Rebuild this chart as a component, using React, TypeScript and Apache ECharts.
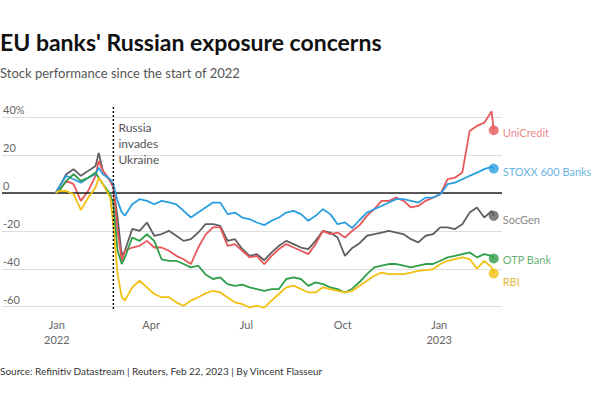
import React, { useEffect, useRef } from "react";
import * as echarts from "echarts";

const dates = [
  "2021-12-31", "2022-01-03", "2022-01-10", "2022-01-17", "2022-01-24", "2022-01-31",
  "2022-02-07", "2022-02-10", "2022-02-14", "2022-02-21", "2022-02-24", "2022-02-28",
  "2022-03-04", "2022-03-07", "2022-03-14", "2022-03-21", "2022-03-28", "2022-04-04",
  "2022-04-11", "2022-04-18", "2022-04-25", "2022-05-02", "2022-05-09", "2022-05-16",
  "2022-05-23", "2022-05-30", "2022-06-06", "2022-06-13", "2022-06-20", "2022-06-27",
  "2022-07-04", "2022-07-11", "2022-07-18", "2022-07-25", "2022-08-01", "2022-08-08",
  "2022-08-15", "2022-08-22", "2022-08-29", "2022-09-05", "2022-09-12", "2022-09-19",
  "2022-09-26", "2022-10-03", "2022-10-10", "2022-10-17", "2022-10-24", "2022-10-31",
  "2022-11-07", "2022-11-14", "2022-11-21", "2022-11-28", "2022-12-05", "2022-12-12",
  "2022-12-19", "2022-12-26", "2023-01-02", "2023-01-09", "2023-01-16", "2023-01-23",
  "2023-01-30", "2023-02-06", "2023-02-13", "2023-02-20", "2023-02-22",
];

const socgen = [0, 2.8, 9.8, 12.5, 9, 11.6, 14.2, 21, 11.6, 6.3, 2.8, -13, -33, -30.5, -19, -20, -15.6, -22.6, -21.7, -20, -22.6, -25.3, -24.4, -20.9, -16.5, -16.5, -17.4, -25.3, -24.4, -29.6, -33.2, -32.3, -35.5, -31.4, -27.9, -25.3, -27, -28.8, -29.6, -25.3, -20, -20.9, -23.5, -33.2, -29, -26.5, -22.6, -21.8, -20.9, -20, -20.9, -21.8, -24.4, -26.1, -22.6, -21.8, -18.2, -18.2, -19.1, -16.5, -10.4, -7.7, -13, -9.5, -12.1];
const unicredit = [0, 1, 6.3, 4.6, -4.2, 1.1, 9, 16.8, 11.6, 6.3, 2.8, -20, -35.8, -30.5, -28.8, -27.9, -25.3, -28.8, -28.8, -30.5, -33.2, -35, -37.5, -28.8, -22, -18.2, -18.2, -27.9, -27, -30.5, -34, -33.2, -37.6, -33.2, -29.6, -27, -28.8, -30.5, -32.3, -27, -20, -21.8, -20.9, -23.5, -20, -17, -12.1, -8.6, -4.2, -4.2, -2.5, -4.2, -7.7, -6.9, -4.2, -2.5, -0.7, 7.2, 8, 10.7, 32.6, 35.3, 37, 43, 33];
const stoxx = [0, 2.8, 9, 7.2, 5.4, 8, 9.8, 13.3, 9.8, 7.2, 4.6, -4.2, -10.3, -12, -6, -3.3, -4.2, -6, -4.2, -5, -6, -9.5, -13, -10.3, -7.7, -5.1, -5.1, -11.2, -10.4, -13, -13.9, -15.6, -17, -14.7, -13, -10.4, -9.5, -11.2, -14.7, -12.1, -8.6, -11.2, -16.5, -15.6, -18.5, -14.3, -10.4, -8.6, -6.9, -5.1, -3.3, -3.3, -4.2, -5.1, -2.5, -2.5, -0.7, 4.6, 5.4, 7.2, 9, 10.7, 12.5, 13.7, 12.8];
const otp = [0, 1, 6.3, 9.8, 6.3, 8, 10.7, 8, 4.6, -0.7, -6, -30.5, -37.5, -34, -23.5, -25.3, -21.8, -25.3, -35, -35.8, -35.8, -37.5, -39.3, -38.4, -43, -45.4, -44.6, -48.1, -49, -48.4, -49.8, -50.7, -51.6, -50.7, -50.7, -45.4, -44.6, -45.4, -49, -47.2, -48.1, -49.8, -50.7, -52.5, -50.5, -47, -42.8, -39.3, -38.4, -37.5, -37.5, -38.4, -39.3, -38.4, -37.5, -37.5, -35.8, -34, -33.2, -32.3, -31.4, -34, -32.3, -33.2, -34.6];
const rbi = [0, 1, 1, -0.7, -9, -2.5, 2.8, 8, 4.6, -2.5, -16.5, -42.8, -55, -56.8, -49.8, -46.3, -49.8, -53.3, -55, -55, -57.7, -59.5, -56.8, -55, -53, -51.6, -52.5, -55.1, -57.7, -58.6, -60.4, -59.5, -60.5, -56.8, -53.3, -49.8, -48.9, -50.7, -52.5, -52.5, -49.8, -50.7, -51.6, -52.5, -51.6, -49, -46.3, -43.7, -42, -42.8, -42.8, -42.8, -42, -41.1, -40.7, -40.2, -37.5, -35.8, -34.9, -34, -34.9, -40, -35.8, -39.3, -42.5];

const seriesNames = ["SocGen", "UniCredit", "STOXX 600 Banks", "OTP Bank", "RBI"];
const seriesValues = [socgen, unicredit, stoxx, otp, rbi];
const lineColors = ["#5f5f5f", "#e8575a", "#2a9fe0", "#2f9e48", "#f2c011"];
const labelColors = ["#666666", "#e46a6a", "#3ea0d8", "#3a9a50", "#d8a900"];
const labelOffsets = [4, 2, 3, 1, 8];

const yTicks = [-60, -40, -20, 0, 20, 40];
const xTickDates = ["2022-01-01", "2022-04-01", "2022-07-01", "2022-10-01", "2023-01-01"];
const xTickLabels = ["Jan\n2022", "Apr", "Jul", "Oct", "Jan\n2023"];
const invasionDate = "2022-02-24";
const annotationText = "Russia\ninvades\nUkraine";

const titleText = "EU banks' Russian exposure concerns";
const subtitleText = "Stock performance since the start of 2022";
const sourceText = "Source: Refinitiv Datastream | Reuters, Feb 22, 2023 | By Vincent Flasseur";

const DAY = 86400000;
const ORIGIN = Date.parse("2022-01-01");
const toDay = (s: string) => (Date.parse(s) - ORIGIN) / DAY;

const FONT = "Lato, 'Open Sans', sans-serif";

export default function App() {
  const ref = useRef<HTMLDivElement>(null);

  useEffect(() => {
    if (!ref.current) return;
    const chart = echarts.init(ref.current, null, { renderer: "svg" });

    const tickDays = xTickDates.map(toDay);
    const lineSeries = seriesNames.map((name, i) => ({
      type: "line",
      name,
      data: dates.map((d, j) => [toDay(d), seriesValues[i][j]]),
      showSymbol: false,
      symbol: "none",
      clip: false,
      z: 3 + i,
      lineStyle: { color: lineColors[i], width: 1.8 },
      itemStyle: { color: lineColors[i] },
    }));

    const lastIdx = dates.length - 1;
    const endSeries = {
      type: "scatter",
      z: 10,
      clip: false,
      symbolSize: 10,
      data: seriesNames.map((name, i) => ({
        name,
        value: [toDay(dates[lastIdx]), seriesValues[i][lastIdx]],
        itemStyle: { color: lineColors[i] },
        label: {
          show: true,
          position: "right",
          distance: 4,
          formatter: "{b}",
          color: labelColors[i],
          fontSize: 11,
          fontFamily: FONT,
          offset: [0, labelOffsets[i]],
        },
      })),
    };

    const zeroSeries = {
      type: "line",
      data: [],
      z: 2,
      markLine: {
        silent: true,
        symbol: "none",
        label: { show: false },
        lineStyle: { color: "#222", width: 1.5, type: "solid" },
        data: [{ yAxis: 0 }],
      },
    };

    chart.setOption({
      animation: false,
      backgroundColor: "#ffffff",
      grid: { left: 0, right: 98, top: 117, bottom: 93.3, containLabel: false },
      xAxis: {
        type: "value",
        min: -52.3,
        max: 424.9,
        axisLine: { show: false },
        axisTick: { show: false },
        splitLine: { show: false },
        axisLabel: {
          customValues: tickDays,
          formatter: (v: number) => {
            const k = tickDays.findIndex((t) => Math.abs(t - v) < 0.5);
            return k >= 0 ? xTickLabels[k] : "";
          },
          color: "#666",
          fontSize: 11,
          fontFamily: FONT,
          lineHeight: 15,
          margin: 10,
        },
      },
      yAxis: {
        type: "value",
        min: yTicks[0],
        max: yTicks[yTicks.length - 1],
        interval: 20,
        axisLine: { show: false },
        axisTick: { show: false },
        splitLine: { lineStyle: { color: "#dddddd", width: 1 } },
        axisLabel: {
          inside: true,
          margin: 1,
          verticalAlign: "bottom",
          padding: [0, 0, 2, 0],
          color: "#666",
          fontSize: 11,
          fontFamily: FONT,
          formatter: (v: number) => (v === yTicks[yTicks.length - 1] ? `${v}%` : `${v}`),
        },
      },
      series: [zeroSeries, ...lineSeries, endSeries],
    });

    const lineX = chart.convertToPixel({ xAxisIndex: 0 }, toDay(invasionDate)) as number;

    chart.setOption({
      graphic: [
        {
          type: "text",
          left: 0,
          top: 30,
          style: { text: titleText, fontSize: 23, fontWeight: "bold", fontFamily: FONT, fill: "#111" },
        },
        {
          type: "text",
          left: 0,
          top: 66,
          style: { text: subtitleText, fontSize: 13, fontFamily: FONT, fill: "#555" },
        },
        {
          type: "text",
          left: 0,
          top: 366,
          style: { text: sourceText, fontSize: 10, fontFamily: FONT, fill: "#333" },
        },
        {
          type: "line",
          z: 20,
          shape: { x1: lineX, y1: 107, x2: lineX, y2: 309 },
          style: { stroke: "#111", lineWidth: 1.5, lineDash: [2, 2] },
        },
        {
          type: "text",
          x: lineX + 5,
          y: 119,
          z: 20,
          style: { text: annotationText, fontSize: 12, lineHeight: 16, fontFamily: FONT, fill: "#555" },
        },
      ],
    });

    return () => chart.dispose();
  }, []);

  return (
    <div
      ref={ref}
      style={{ position: "fixed", left: 0, top: 0, width: 600, height: 400, background: "#fff" }}
    />
  );
}
